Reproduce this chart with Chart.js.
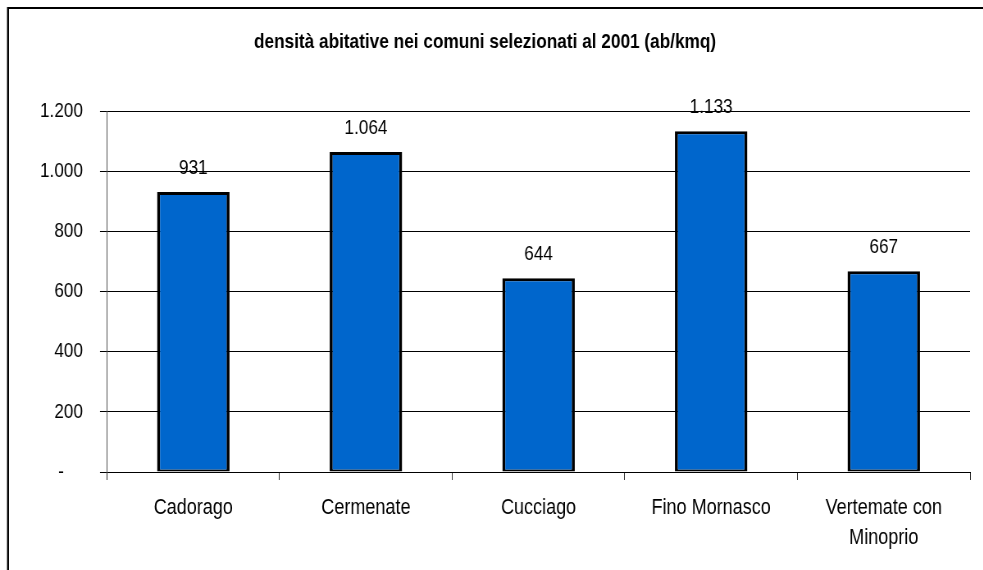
<!DOCTYPE html>
<html>
<head>
<meta charset="utf-8">
<script src="https://cdn.jsdelivr.net/npm/chart.js@4"></script>
<style>
  html, body { margin: 0; padding: 0; background: #fff; overflow: hidden; }
  #wrap { position: relative; width: 983px; height: 570px; overflow: hidden; }
  #c { position: absolute; left: 0; top: 0; transform: scaleX(0.82); transform-origin: 0 0; }
</style>
</head>
<body>
<div id="wrap"><canvas id="c" width="1199" height="570"></canvas></div>
<script>
const categories = ['Cadorago', 'Cermenate', 'Cucciago', 'Fino Mornasco', ['Vertemate con', 'Minoprio']];
const densita = [931, 1064, 644, 1133, 667];
const yTicks = [0, 200, 400, 600, 800, 1000, 1200];
const titleText = 'densità abitative nei comuni selezionati al 2001 (ab/kmq)';

const FONT = "'Liberation Sans', Arial, sans-serif";
const SX = 0.82; // horizontal squeeze of the original picture

function fmt(v) {
  return String(Math.round(v)).replace(/\B(?=(\d{3})+(?!\d))/g, '.');
}

const frame = {
  id: 'frame',
  beforeDraw(chart) {
    const ctx = chart.ctx;
    ctx.save();
    ctx.strokeStyle = '#000';
    ctx.lineWidth = 2;
    ctx.beginPath();
    ctx.moveTo(chart.width + 10, 8);
    ctx.lineTo(8 / SX, 8);
    ctx.stroke();
    ctx.lineWidth = 2 / SX;
    ctx.beginPath();
    ctx.moveTo(8 / SX, 7);
    ctx.lineTo(8 / SX, chart.height + 10);
    ctx.stroke();
    ctx.restore();
  }
};

const valueLabels = {
  id: 'valueLabels',
  afterDatasetsDraw(chart) {
    const ctx = chart.ctx;
    const meta = chart.getDatasetMeta(0);
    ctx.save();
    ctx.font = '21px ' + FONT;
    ctx.fillStyle = '#000';
    ctx.textAlign = 'center';
    ctx.textBaseline = 'middle';
    meta.data.forEach((bar, i) => {
      ctx.fillText(fmt(chart.data.datasets[0].data[i]), bar.x, bar.y - 24);
    });
    ctx.restore();
  }
};

new Chart(document.getElementById('c'), {
  type: 'bar',
  data: {
    labels: categories,
    datasets: [{
      data: densita,
      backgroundColor: '#0066CC',
      borderColor: '#000',
      borderWidth: { top: 3, bottom: 2, left: 3 / SX, right: 3 / SX },
      borderSkipped: false,
      categoryPercentage: 1,
      barPercentage: 0.42
    }]
  },
  options: {
    responsive: false,
    animation: false,
    layout: { padding: { top: 0, right: 16, bottom: 0, left: 0 } },
    plugins: {
      legend: { display: false },
      tooltip: { enabled: false },
      title: {
        display: true,
        text: titleText,
        color: '#000',
        font: { family: FONT, size: 21, weight: 'bold', lineHeight: 1.2 },
        padding: { top: 29.4, bottom: 56.4 }
      }
    },
    scales: {
      x: {
        offset: true,
        grid: {
          offset: true,
          drawOnChartArea: false,
          drawTicks: true,
          tickLength: 8,
          color: '#333'
        },
        border: { display: true, color: '#000', width: 1 },
        ticks: {
          color: '#000',
          font: { family: FONT, size: 22, lineHeight: 1.36 },
          padding: 13,
          maxRotation: 0,
          autoSkip: false
        },
        afterFit(scale) { scale.height = 98; }
      },
      y: {
        min: 0,
        max: 1200,
        afterBuildTicks(scale) { scale.ticks = yTicks.map(v => ({ value: v })); },
        grid: {
          color: '#000',
          lineWidth: 1,
          drawTicks: true,
          tickLength: 7 / SX
        },
        border: { display: true, color: '#555', width: 1 },
        ticks: {
          color: '#000',
          font: { family: FONT, size: 21 },
          padding: 17 / SX,
          callback(v) { return v === 0 ? '-\u00a0\u00a0\u00a0\u00a0' : fmt(v); }
        },
        afterFit(scale) { scale.width = 107 / SX; }
      }
    }
  },
  plugins: [frame, valueLabels]
});
</script>
</body>
</html>
